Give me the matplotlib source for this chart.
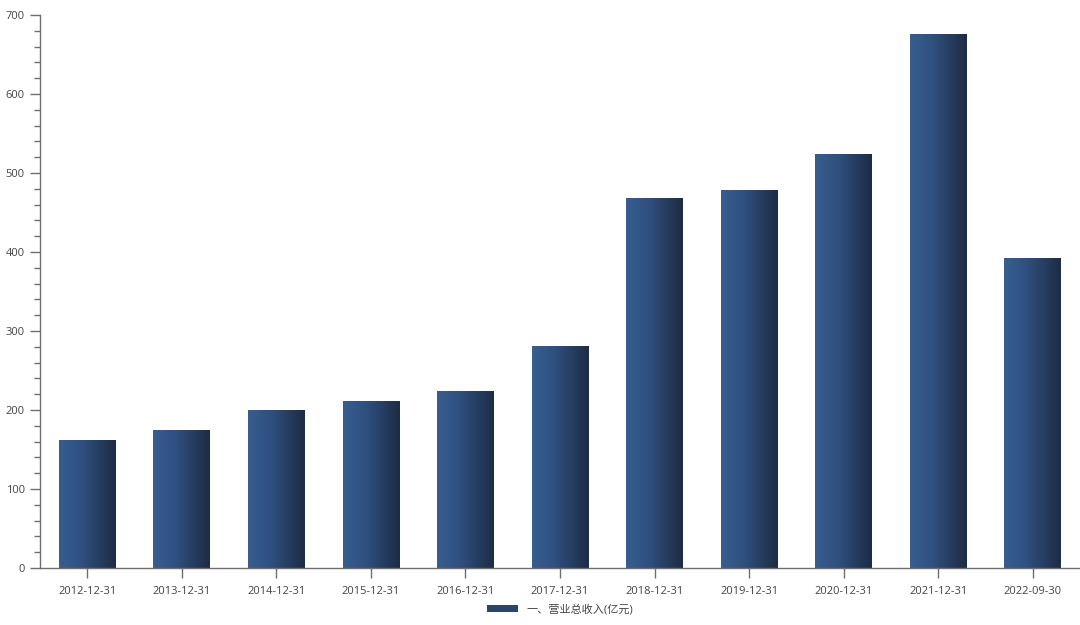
import numpy as np
import matplotlib
matplotlib.use('Agg')
import matplotlib.pyplot as plt
from matplotlib.colors import LinearSegmentedColormap
from matplotlib.patches import Patch
from matplotlib.ticker import MultipleLocator

plt.rcParams['font.family'] = ['Open Sans', 'Noto Sans CJK SC', 'DejaVu Sans']

dates = ['2012-12-31', '2013-12-31', '2014-12-31', '2015-12-31', '2016-12-31',
         '2017-12-31', '2018-12-31', '2019-12-31', '2020-12-31', '2021-12-31',
         '2022-09-30']
revenue = [161, 174, 199, 211, 223, 281, 468, 478, 524, 675, 392]
series_name = '一、营业总收入(亿元)'

# left -> right shading of each bar
cmap = LinearSegmentedColormap.from_list(
    'bar', [(0, '#375e90'), (0.4, '#2f5080'), (1, '#1e2c44')])
grad = np.linspace(0, 1, 256).reshape(1, -1)

fig = plt.figure(figsize=(10.8, 6.25), dpi=100)
ax = fig.add_axes([40 / 1080, 57 / 625, 1040 / 1080, 553 / 625])

width = 0.6
x = np.arange(len(dates))
for xi, v in zip(x, revenue):
    ax.imshow(grad, cmap=cmap, aspect='auto', interpolation='bicubic',
              extent=(xi - width / 2, xi + width / 2, 0, v), zorder=2)

ax.set_xlim(-0.5, len(dates) - 0.5)
ax.set_ylim(0, 700)
ax.set_xticks(x)
ax.set_xticklabels(dates)
ax.yaxis.set_major_locator(MultipleLocator(100))
ax.yaxis.set_minor_locator(MultipleLocator(20))

for s in ['top', 'right']:
    ax.spines[s].set_visible(False)
for s in ['left', 'bottom']:
    ax.spines[s].set_color('#6e6e6e')
    ax.spines[s].set_linewidth(1)

ax.tick_params(axis='both', which='major', length=7, width=1, color='#6e6e6e',
               labelsize=8, labelcolor='#444444', pad=4)
ax.tick_params(axis='y', which='minor', length=4, width=1, color='#6e6e6e')
ax.tick_params(axis='x', which='major', pad=6)

handle = Patch(facecolor='#2c4568', edgecolor='none')
fig.legend([handle], [series_name], loc='center', bbox_to_anchor=(560 / 1080, 15 / 625),
           frameon=False, fontsize=8, handlelength=2.8, handleheight=0.6,
           labelcolor='#444444')

fig.savefig('out.png', dpi=100)
